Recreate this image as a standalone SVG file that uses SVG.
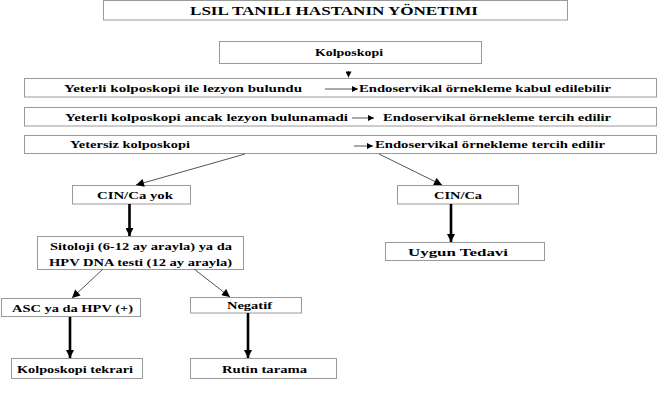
<svg xmlns="http://www.w3.org/2000/svg" width="663" height="402" viewBox="0 0 663 402">
<style>
.box{fill:#fff;stroke:#9a9a9a;stroke-width:1}
text{font-family:"Liberation Serif","DejaVu Serif",serif;font-weight:bold;font-size:11px;fill:#000}
.ttl{font-size:13px}
.thin{stroke:#555;stroke-width:1;fill:none}
.thick{stroke:#000;stroke-width:2.6;fill:none}
</style>
<defs>
<marker id="ah" viewBox="0 0 10 10" refX="10" refY="5" markerWidth="7" markerHeight="6" markerUnits="userSpaceOnUse" orient="auto"><path d="M0,0 L10,5 L0,10 z" fill="#000"/></marker>
<marker id="ahs" viewBox="0 0 10 10" refX="10" refY="5" markerWidth="9" markerHeight="8" markerUnits="userSpaceOnUse" orient="auto"><path d="M0,0 L10,5 L0,10 z" fill="#000"/></marker>
<marker id="ahk" viewBox="0 0 10 10" refX="10" refY="5" markerWidth="9" markerHeight="8" markerUnits="userSpaceOnUse" orient="auto"><path d="M0,0 L10,5 L0,10 z" fill="#000"/></marker>
</defs>
<g font-family="Liberation Serif, serif" font-weight="bold">
<g id="title"><rect class="box" x="103.5" y="0.5" width="464" height="19.5"/><text class="ttl" x="190" y="15" textLength="288" lengthAdjust="spacingAndGlyphs">LSIL TANILI HASTANIN  YÖNETIMI</text></g>
<g id="kolposkopi"><rect class="box" x="219.5" y="41.5" width="262" height="22"/><text x="315" y="56" textLength="68" lengthAdjust="spacingAndGlyphs">Kolposkopi</text></g>
<g id="row1"><rect class="box" x="24.5" y="78.5" width="632" height="18.5"/><text x="64" y="91.5" textLength="238" lengthAdjust="spacingAndGlyphs">Yeterli kolposkopi ile lezyon bulundu</text><text x="359" y="91.5" textLength="252" lengthAdjust="spacingAndGlyphs">Endoservikal örnekleme kabul edilebilir</text></g>
<g id="row2"><rect class="box" x="24.5" y="107.5" width="632" height="18.5"/><text x="65" y="120.5" textLength="283" lengthAdjust="spacingAndGlyphs">Yeterli kolposkopi ancak lezyon bulunamadi</text><text x="383" y="120.5" textLength="228" lengthAdjust="spacingAndGlyphs">Endoservikal örnekleme tercih edilir</text></g>
<g id="row3"><rect class="box" x="24.5" y="135.5" width="632" height="18"/><text x="70" y="148" textLength="120" lengthAdjust="spacingAndGlyphs">Yetersiz kolposkopi</text><text x="375" y="148" textLength="230" lengthAdjust="spacingAndGlyphs">Endoservikal örnekleme tercih edilir</text></g>
<g id="cinyok"><rect class="box" x="72.5" y="185.5" width="118" height="18.5"/><text x="97" y="199" textLength="76" lengthAdjust="spacingAndGlyphs">CIN/Ca yok</text></g>
<g id="cinca"><rect class="box" x="397.5" y="185.5" width="121" height="18.5"/><text x="434" y="199" textLength="48" lengthAdjust="spacingAndGlyphs">CIN/Ca</text></g>
<g id="sitoloji"><rect class="box" x="37.5" y="236.5" width="206" height="33"/><text x="50" y="250" textLength="182" lengthAdjust="spacingAndGlyphs">Sitoloji (6-12 ay arayla) ya da</text><text x="49" y="266" textLength="183" lengthAdjust="spacingAndGlyphs">HPV DNA testi (12 ay arayla)</text></g>
<g id="uygun"><rect class="box" x="385.5" y="242.5" width="159" height="18"/><text x="408" y="256" textLength="100" lengthAdjust="spacingAndGlyphs">Uygun Tedavi</text></g>
<g id="asc"><rect class="box" x="1.5" y="298.5" width="139" height="18"/><text x="12" y="312" textLength="121" lengthAdjust="spacingAndGlyphs">ASC ya da HPV (+)</text></g>
<g id="negatif"><rect class="box" x="190.5" y="297.5" width="111" height="15.5"/><text x="227" y="309" textLength="45" lengthAdjust="spacingAndGlyphs">Negatif</text></g>
<g id="tekrar"><rect class="box" x="11.5" y="358.5" width="131" height="20"/><text x="17" y="372.5" textLength="116" lengthAdjust="spacingAndGlyphs">Kolposkopi tekrari</text></g>
<g id="rutin"><rect class="box" x="190.5" y="358.5" width="146" height="20"/><text x="222" y="372.5" textLength="85" lengthAdjust="spacingAndGlyphs">Rutin tarama</text></g>
</g>
<g id="connectors">
<line x1="348.5" y1="71" x2="348.5" y2="77.5" stroke="#000" stroke-width="0.6" marker-end="url(#ah)"/>
<line class="thin" x1="325" y1="89" x2="358" y2="89" stroke="#888" marker-end="url(#ah)"/>
<line class="thin" x1="352" y1="118" x2="374" y2="118" stroke="#888" marker-end="url(#ah)"/>
<line class="thin" x1="354" y1="146" x2="373" y2="146" stroke="#888" marker-end="url(#ah)"/>
<line class="thin" x1="245" y1="154" x2="136" y2="185" marker-end="url(#ahs)"/>
<line class="thin" x1="379" y1="154" x2="442" y2="185" marker-end="url(#ahs)"/>
<line class="thick" x1="129.5" y1="204" x2="129.5" y2="236" marker-end="url(#ahk)"/>
<line class="thick" x1="451" y1="204" x2="451" y2="242" marker-end="url(#ahk)"/>
<line class="thin" x1="103" y1="269" x2="72" y2="298" stroke="#111" stroke-width="1.3" marker-end="url(#ahs)"/>
<line class="thin" x1="194" y1="269" x2="230" y2="297" stroke="#111" stroke-width="1.3" marker-end="url(#ahs)"/>
<line class="thick" x1="70" y1="317" x2="70" y2="358" marker-end="url(#ahk)"/>
<line class="thick" x1="248" y1="313" x2="248" y2="358" marker-end="url(#ahk)"/>
</g>
</svg>
